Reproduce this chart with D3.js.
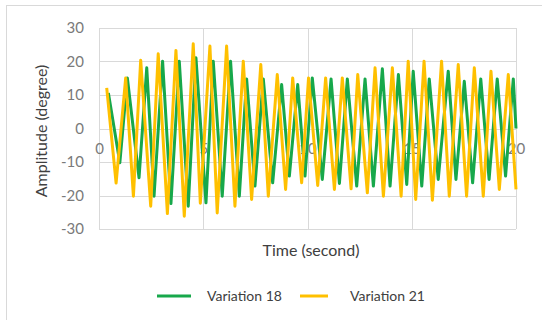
<!DOCTYPE html>
<html>
<head>
<meta charset="utf-8">
<script src="https://cdn.jsdelivr.net/npm/d3@7"></script>
<style>
  html, body { margin: 0; padding: 0; background: #fff; }
  svg { display: block; font-family: Lato, "Open Sans", sans-serif; }
</style>
</head>
<body>
<svg id="chart" width="542" height="320"></svg>
<script>
// Time stamps (s) of the turning points of each response
const time18 = [0.45, 1.0, 1.36, 1.92, 2.29, 2.64, 3.05, 3.45, 3.85, 4.28,
  4.65, 5.13, 5.48, 5.91, 6.31, 6.73, 7.08, 7.48, 7.88, 8.33,
  8.76, 9.13, 9.53, 9.88, 10.23, 10.71, 11.13, 11.53, 11.91, 12.36,
  12.76, 13.16, 13.59, 13.96, 14.36, 14.76, 15.07, 15.48, 15.84, 16.27,
  16.75, 17.12, 17.52, 17.92, 18.31, 18.71, 19.1, 19.5, 19.87, 20.0];
const amp18 = [10.6, -10.2, 15.1, -14.7, 18.1, -20.2, 20.1, -22.4, 20.1, -23.2,
  21.1, -22.2, 20.1, -20.2, 20.1, -20.2, 14.8, -17.2, 14.8, -16.2,
  13.1, -14.2, 13.1, -14.2, 15.1, -15.2, 14.8, -16.4, 14.8, -17.2,
  14.8, -17.2, 17.8, -17.2, 16.1, -16.7, 17.1, -17.2, 14.8, -15.2,
  17.1, -15.2, 14.1, -16.2, 14.8, -15.2, 14.8, -14.2, 14.8, 0];

const time21 = [0.37, 0.82, 1.28, 1.65, 2.0, 2.48, 2.84, 3.28, 3.69, 4.09,
  4.52, 4.86, 5.32, 5.67, 6.12, 6.52, 6.92, 7.32, 7.76, 8.12,
  8.55, 8.95, 9.29, 9.72, 10.05, 10.49, 10.87, 11.29, 11.67, 12.09,
  12.41, 12.87, 13.24, 13.64, 14.07, 14.49, 14.83, 15.19, 15.59, 15.99,
  16.43, 16.8, 17.23, 17.63, 18.0, 18.43, 18.8, 19.2, 19.63, 20.0];
const amp21 = [12.1, -16.3, 15.1, -20.2, 20.4, -23.2, 22.3, -25.4, 23.3, -26.2,
  25.3, -22.3, 24.6, -25.2, 24.6, -23.2, 20.1, -21.2, 19.1, -20.2,
  16.1, -18.2, 15.1, -16.2, 15.1, -17.0, 15.1, -18.2, 15.1, -18.0,
  16.1, -19.2, 18.1, -20.2, 18.1, -20.2, 20.1, -21.2, 20.1, -21.4,
  20.1, -20.2, 19.1, -20.2, 18.1, -20.2, 17.1, -18.2, 16.1, -18.2];

const seriesNames = ["Variation 18", "Variation 21"];
const seriesColors = ["#17a84b", "#ffc000"];
const xTicks = [0, 5, 10, 15, 20];
const yTicks = [-30, -20, -10, 0, 10, 20, 30];

const svg = d3.select("#chart");

// outer chart frame
svg.append("rect")
  .attr("x", 6.5).attr("y", 5.5)
  .attr("width", 560).attr("height", 340)
  .attr("fill", "none").attr("stroke", "#d9d9d9");

const x = d3.scaleLinear().domain([0, 20]).range([99, 516]);
const y = d3.scaleLinear().domain([-30, 30]).range([229, 28]);

// gridlines
const grid = svg.append("g").attr("stroke", "#d9d9d9").attr("stroke-width", 1);
grid.selectAll("line.h").data(yTicks).join("line")
  .attr("x1", x(0)).attr("x2", x(20))
  .attr("y1", d => Math.round(y(d)) + 0.5).attr("y2", d => Math.round(y(d)) + 0.5);
grid.selectAll("line.v").data(xTicks).join("line")
  .attr("y1", y(30)).attr("y2", y(-30))
  .attr("x1", d => Math.round(x(d)) + 0.5).attr("x2", d => Math.round(x(d)) + 0.5);

// plain hyphen-minus for negative labels
const fmt = d => String(d);

// y axis labels
const yAxis = d3.axisLeft(y).tickValues(yTicks).tickFormat(fmt).tickSize(0).tickPadding(0);
svg.append("g").attr("transform", "translate(84,0)").call(yAxis)
  .call(g => g.select(".domain").remove())
  .call(g => g.selectAll("text").attr("fill", "#7a7a7a")
    .style("font-size", "15px").style("font-family", "Lato, sans-serif"));

// x axis labels hang below the zero line
const xAxis = d3.axisBottom(x).tickValues(xTicks).tickFormat(fmt).tickSize(0).tickPadding(0);
svg.append("g").attr("transform", `translate(0,${y(0) + 15})`).call(xAxis)
  .call(g => g.select(".domain").remove())
  .call(g => g.selectAll("text").attr("fill", "#7a7a7a")
    .style("font-size", "15px").style("font-family", "Lato, sans-serif"));

// series lines
const line = d3.line().x(d => x(d[0])).y(d => y(d[1]));
const data18 = time18.map((t, i) => [t, amp18[i]]);
const data21 = time21.map((t, i) => [t, amp21[i]]);
[data18, data21].forEach((d, i) => {
  svg.append("path").datum(d)
    .attr("d", line)
    .attr("fill", "none")
    .attr("stroke", seriesColors[i])
    .attr("stroke-width", 3)
    .attr("stroke-linejoin", "round");
});

// axis titles
svg.append("text")
  .attr("transform", "translate(47,131) rotate(-90)")
  .attr("text-anchor", "middle")
  .attr("fill", "#404040").style("font-size", "16px")
  .text("Amplitude (degree)");
svg.append("text")
  .attr("x", 311).attr("y", 256)
  .attr("text-anchor", "middle")
  .attr("fill", "#404040").style("font-size", "16px")
  .text("Time (second)");

// legend
const legendX = [157, 300];
const legendTextX = [207, 350];
const legendW = [34, 28];
seriesNames.forEach((name, i) => {
  svg.append("line")
    .attr("x1", legendX[i]).attr("x2", legendX[i] + legendW[i])
    .attr("y1", 296).attr("y2", 296)
    .attr("stroke", seriesColors[i]).attr("stroke-width", 3);
  svg.append("text")
    .attr("x", legendTextX[i]).attr("y", 301)
    .attr("fill", "#404040").style("font-size", "14px")
    .text(name);
});
</script>
</body>
</html>
